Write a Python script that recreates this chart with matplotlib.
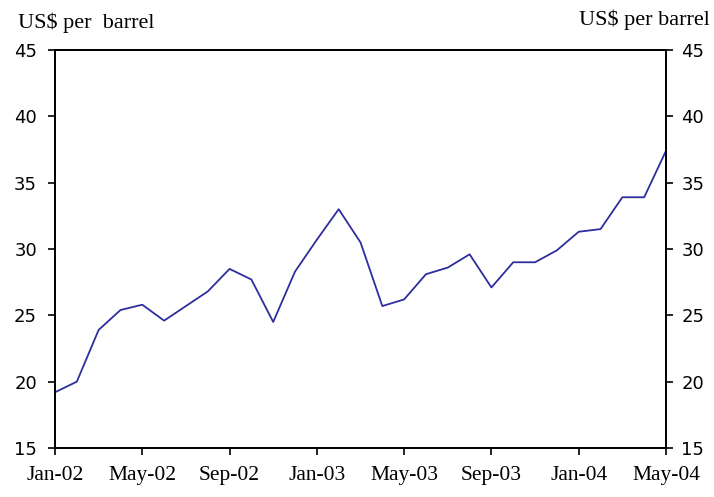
import matplotlib
matplotlib.use("Agg")
import matplotlib.pyplot as plt

# Monthly oil price, Jan-02 .. May-04
months = ["Jan-02", "Feb-02", "Mar-02", "Apr-02", "May-02", "Jun-02", "Jul-02", "Aug-02",
          "Sep-02", "Oct-02", "Nov-02", "Dec-02", "Jan-03", "Feb-03", "Mar-03", "Apr-03",
          "May-03", "Jun-03", "Jul-03", "Aug-03", "Sep-03", "Oct-03", "Nov-03", "Dec-03",
          "Jan-04", "Feb-04", "Mar-04", "Apr-04", "May-04"]
price = [19.2, 20.0, 23.9, 25.4, 25.8, 24.6, 25.7, 26.8,
         28.5, 27.7, 24.5, 28.3, 30.7, 33.0, 30.5, 25.7,
         26.2, 28.1, 28.6, 29.6, 27.1, 29.0, 29.0, 29.9,
         31.3, 31.5, 33.9, 33.9, 37.4]
tick_labels = ["Jan-02", "May-02", "Sep-02", "Jan-03", "May-03", "Sep-03", "Jan-04", "May-04"]
y_ticks = [15, 20, 25, 30, 35, 40, 45]

serif = "Liberation Serif"

fig = plt.figure(figsize=(7.14, 4.97), dpi=100)
ax = fig.add_axes([55 / 714, 1 - 448 / 497, (666 - 55) / 714, (448 - 50) / 497])

x = list(range(len(months)))
ax.plot(x, price, color="#2e2e9e", linewidth=1.3)

ax.set_xlim(0, len(months) - 1)
ax.set_ylim(15, 45)
ax.set_xticks([months.index(m) for m in tick_labels])
ax.set_xticklabels(tick_labels, fontfamily=serif, fontsize=15.5)
ax.set_yticks(y_ticks)
ax.set_yticklabels([str(v) for v in y_ticks], fontfamily="DejaVu Sans", fontsize=13)
ax.tick_params(axis="x", direction="out", length=5, width=1.2, pad=8)
ax.tick_params(axis="y", direction="out", length=5, width=1.2, pad=8)

ax2 = ax.twinx()
ax2.set_ylim(15, 45)
ax2.set_yticks(y_ticks)
ax2.set_yticklabels([str(v) for v in y_ticks], fontfamily="DejaVu Sans", fontsize=13)
ax2.tick_params(axis="y", direction="out", length=5, width=1.2, pad=6)

for a in (ax, ax2):
    for s in a.spines.values():
        s.set_linewidth(1.3)
        s.set_color("black")

fig.text(18 / 714, 1 - 28 / 497, "US$ per  barrel", fontfamily=serif, fontsize=16,
         ha="left", va="baseline")
fig.text(710 / 714, 1 - 25 / 497, "US$ per barrel", fontfamily=serif, fontsize=16,
         ha="right", va="baseline")

fig.savefig("out.png", dpi=100)
